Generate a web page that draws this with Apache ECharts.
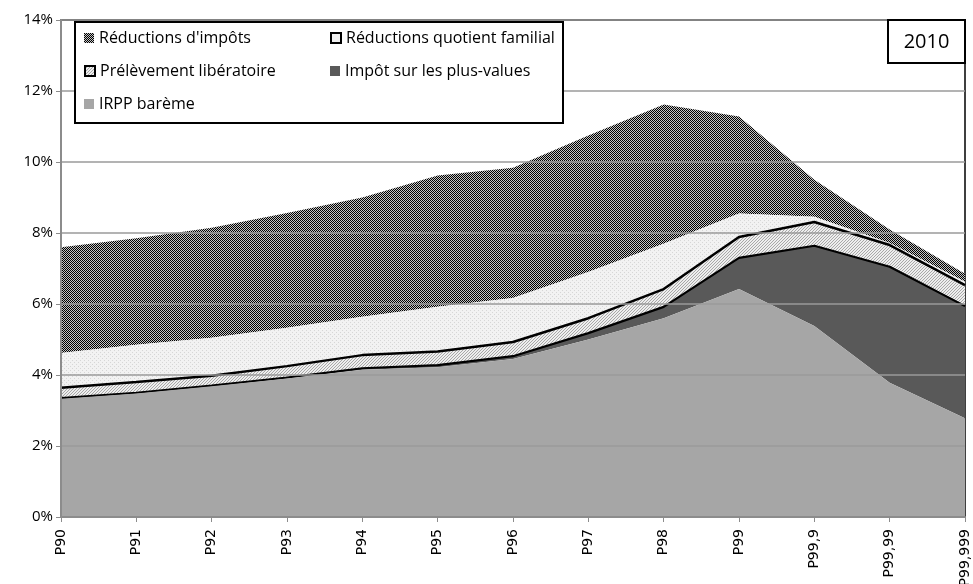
<!DOCTYPE html>
<html><head><meta charset="utf-8">
<script src="https://cdn.jsdelivr.net/npm/echarts@6/dist/echarts.min.js"></script>
<style>html,body{margin:0;padding:0;background:#fff}#c{width:973px;height:584px}</style>
</head><body><div id="c"></div>
<script>
const categories = ['P90','P91','P92','P93','P94','P95','P96','P97','P98','P99','P99,9','P99,99','P99,999'];
const irppBareme = [3.33,3.48,3.68,3.90,4.15,4.22,4.45,5.00,5.60,6.42,5.38,3.78,2.78];
const plusValues = [0.02,0.02,0.02,0.03,0.04,0.06,0.08,0.18,0.32,0.88,2.26,3.27,3.16];
const prelevement = [0.29,0.30,0.28,0.32,0.37,0.38,0.40,0.42,0.50,0.59,0.67,0.61,0.59];
const reducQF = [0.98,1.05,1.07,1.08,1.08,1.26,1.24,1.30,1.28,0.66,0.15,0.06,0.10];
const reducImpots = [2.98,3.00,3.10,3.23,3.36,3.70,3.67,3.85,3.92,2.73,1.04,0.38,0.22];
const yTicks = [0,2,4,6,8,10,12,14];
const yearLabel = '2010';

function pattern(size, bg, fg, pts){
  const c = document.createElement('canvas'); c.width = size; c.height = size;
  const g = c.getContext('2d'); g.fillStyle = bg; g.fillRect(0,0,size,size);
  g.fillStyle = fg; pts.forEach(p => g.fillRect(p[0],p[1],1,1));
  return {image: c, repeat: 'repeat'};
}
const checker = pattern(2,'#c4c4c4','#000000',[[0,0],[1,1]]);
const dotted = pattern(4,'#f2f2f2','#d6d6d6',[[0,0],[2,2]]);
const hatch = pattern(3,'#eeeeee','#a8a8a8',[[2,0],[1,1],[0,2]]);

const FONT = 'Open Sans';
const names = ["Réductions d'impôts","Réductions quotient familial","Prélèvement libératoire","Impôt sur les plus-values","IRPP barème"];
const legendPos = [[84,30],[330,30],[84,63],[330,63],[84,96]];
const legendStyles = [
  {color: checker},
  {color: '#eeeeee', borderColor:'#000', borderWidth:2},
  {color: hatch, borderColor:'#000', borderWidth:2},
  {color: '#595959'},
  {color: '#a6a6a6'}
];

const chart = echarts.init(document.getElementById('c'), null, {renderer:'canvas'});
const mk = (name, data, color, z, lw) => ({
  name, type:'line', stack:'t', data, z, symbol:'none', smooth:false,
  lineStyle: lw ? {color:'#000', width:lw} : {width:0, opacity:0},
  itemStyle:{color: color}, areaStyle:{color: color, opacity:1},
  emphasis:{disabled:true}
});
chart.setOption({
  animation:false,
  grid:{left:61, right:8, top:20, bottom:67, containLabel:false, outerBoundsMode:'none',
    show:true, borderColor:'#000', borderWidth:1.5, backgroundColor:'transparent'},
  xAxis:{type:'category', data:categories, boundaryGap:false,
    axisLine:{lineStyle:{color:'#8c8c8c', width:2}},
    axisTick:{show:true, length:5, lineStyle:{color:'#8c8c8c'}},
    axisLabel:{rotate:90, color:'#000', fontFamily:'DejaVu Sans', fontSize:14, margin:12, interval:0},
    splitLine:{show:false}, z:10},
  yAxis:{type:'value', min:0, max:14, interval:2,
    axisLine:{show:true, lineStyle:{color:'#8c8c8c', width:2}},
    axisTick:{show:true, length:5, lineStyle:{color:'#8c8c8c'}},
    axisLabel:{formatter: v => yTicks.includes(v) ? v + '%' : '', color:'#000', fontFamily:FONT, fontSize:15, margin:8},
    splitLine:{lineStyle:{color:'#9a9a9a', width:1.5}}, z:10},
  legend: names.map((n,i) => ({
    data:[{name:n, icon:'rect', itemStyle: legendStyles[i]}],
    left: legendPos[i][0], top: legendPos[i][1], itemWidth:10, itemHeight:10, itemGap:5,
    textStyle:{fontFamily:FONT, fontSize:16, color:'#000'}, selectedMode:false, z:30, padding:0
  })),
  graphic:[
    {type:'rect', z:20, shape:{x:75, y:22, width:488, height:101}, style:{fill:'#fff', stroke:'#000', lineWidth:2}},
    {type:'rect', z:20, shape:{x:888, y:20, width:77, height:43}, style:{fill:'#fff', stroke:'#000', lineWidth:2}},
    {type:'text', z:21, x:926.5, y:42, style:{text:yearLabel, font:'20px "Open Sans"', fill:'#000', align:'center', verticalAlign:'middle'}}
  ],
  series:[
    mk('IRPP barème', irppBareme, '#a6a6a6', 7, 0),
    mk('Impôt sur les plus-values', plusValues, '#595959', 6, 2.2),
    mk('Prélèvement libératoire', prelevement, hatch, 5, 2.5),
    mk('Réductions quotient familial', reducQF, dotted, 4, 0),
    mk("Réductions d'impôts", reducImpots, checker, 3, 0)
  ]
});
</script></body></html>
